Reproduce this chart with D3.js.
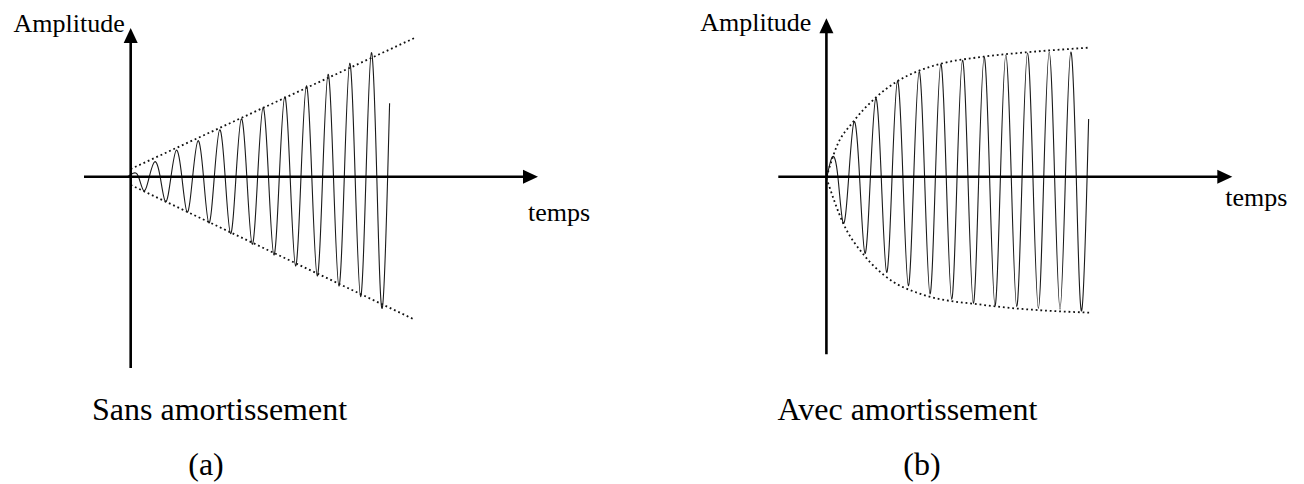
<!DOCTYPE html>
<html>
<head>
<meta charset="utf-8">
<script src="https://cdn.jsdelivr.net/npm/d3@7"></script>
<style>
  html, body { margin: 0; padding: 0; background: #fff; }
</style>
</head>
<body>
<svg id="chart" width="1304" height="484"></svg>
<script>
// Time is measured in oscillation periods, amplitude in arbitrary units.
// Each signal is described by its successive extrema (peak, trough, peak, ...).

const axisLabelY = "Amplitude";
const axisLabelX = "temps";
const captions = ["Sans amortissement", "Avec amortissement"];
const panelTags = ["(a)", "(b)"];

// (a) without damping: amplitude keeps growing
const signalStartA = -0.14;
const extremaA = [0.34, 1.4, 1.5, 2.5, 2.65, 3.55, 3.6, 4.63, 4.7, 5.7, 5.8, 6.76,
                  6.9, 7.83, 8.0, 8.93, 9.1, 9.93, 10.24, 10.93, 11.34, 12.0, 12.4, 13.16];
const signalEndA = [11.95, 7.34];
const envelopeUpperA = [[0, 0.77], [13.17, 13.94]];
const envelopeLowerA = [[0, -0.83], [13.04, -14.23]];

// (b) with damping: amplitude saturates
const signalStartB = 0.03;
const extremaB = [2.0, 4.67, 5.5, 7.67, 7.84, 9.57, 9.57, 10.9, 10.5, 11.73, 11.27, 12.27,
                  11.64, 12.67, 11.97, 12.9, 12.17, 13.0, 12.37, 13.17, 12.44, 13.27, 12.47, 13.4];
const signalEndB = [12.1, 5.77];
const envelopeUpperB = [[0.01, 0], [0.47, 3.0], [1.24, 5.5], [2.24, 7.84], [3.24, 9.5],
                        [4.24, 10.57], [5.24, 11.27], [7.24, 12.0], [9.24, 12.44], [12.1, 12.9]];
const envelopeLowerB = [[0, -0.13], [0.775, -4.66], [1.73, -7.83], [2.65, -9.83],
                        [4.5, -11.83], [7.27, -12.83], [12.19, -13.6]];

const serif = "'Liberation Serif', 'Times New Roman', Times, 'DejaVu Serif', serif";
const svg = d3.select("#chart");

// Builds the signal path: zero crossings between alternating extrema.
function signalPoints(start, extrema, end) {
  const pts = [[start, 0]];
  extrema.forEach((a, k) => {
    const sign = k % 2 === 0 ? 1 : -1;
    pts.push([start + 0.25 + 0.5 * k, sign * a]);
    pts.push([start + 0.5 + 0.5 * k, 0]);
  });
  pts.push(end);
  return pts;
}

function drawPanel(cfg) {
  const g = svg.append("g");
  const x = d3.scaleLinear().domain(cfg.tDomain).range(cfg.xRange);
  const y = d3.scaleLinear().domain(cfg.aDomain).range(cfg.yRange);

  const x0 = x(0), y0 = y(0);
  const xl = x(cfg.tDomain[0]), xr = x(cfg.tDomain[1]);
  const yb = y(cfg.aDomain[0]), yt = y(cfg.aDomain[1]);
  const head = 15, half = 7;

  // envelopes (dotted)
  const env = d3.line().x(d => x(d[0])).y(d => y(d[1])).curve(cfg.envCurve);
  [cfg.envUpper, cfg.envLower].forEach(e => {
    g.append("path").attr("d", env(e))
      .attr("fill", "none").attr("stroke", "#111")
      .attr("stroke-width", 1.8).attr("stroke-dasharray", "1.8,2.9");
  });

  // signal
  const sig = d3.line().x(d => x(d[0])).y(d => y(d[1])).curve(d3.curveNatural);
  g.append("path").attr("d", sig(signalPoints(cfg.start, cfg.extrema, cfg.end)))
    .attr("fill", "none").attr("stroke", "#1a1a1a").attr("stroke-width", 1.1);

  // axes with arrow heads
  g.append("line").attr("x1", xl).attr("x2", xr - head + 1).attr("y1", y0).attr("y2", y0)
    .attr("stroke", "#000").attr("stroke-width", 2.6);
  g.append("path")
    .attr("d", `M${xr},${y0} L${xr - head},${y0 - half} L${xr - head},${y0 + half} Z`)
    .attr("fill", "#000");
  g.append("line").attr("x1", x0).attr("x2", x0).attr("y1", yb).attr("y2", yt + head - 1)
    .attr("stroke", "#000").attr("stroke-width", 2.6);
  g.append("path")
    .attr("d", `M${x0},${yt} L${x0 - half},${yt + head} L${x0 + half},${yt + head} Z`)
    .attr("fill", "#000");

  // axis labels
  g.append("text").attr("x", x0 - cfg.yLabelGap).attr("y", yt + cfg.yLabelDrop)
    .attr("text-anchor", "end").attr("font-family", serif).attr("font-size", 26)
    .attr("fill", "#000").text(axisLabelY);
  g.append("text").attr("x", xr - cfg.xLabelBack).attr("y", y0 + cfg.xLabelDrop)
    .attr("font-family", serif).attr("font-size", 26).attr("fill", "#000").text(axisLabelX);

  // captions
  g.append("text").attr("x", cfg.captionX).attr("y", 420)
    .attr("font-family", serif).attr("font-size", 32).attr("fill", "#000").text(cfg.caption);
  g.append("text").attr("x", cfg.tagX).attr("y", 475)
    .attr("text-anchor", "middle").attr("font-family", serif).attr("font-size", 32)
    .attr("fill", "#000").text(cfg.tag);
}

drawPanel({
  tDomain: [-2.155, 18.8], xRange: [84, 538],
  aDomain: [-19.13, 14.87], yRange: [368, 28],
  start: signalStartA, extrema: extremaA, end: signalEndA,
  envUpper: envelopeUpperA, envLower: envelopeLowerA, envCurve: d3.curveLinear,
  yLabelGap: 6, yLabelDrop: 4, xLabelBack: 10, xLabelDrop: 44,
  caption: captions[0], captionX: 92, tag: panelTags[0], tagX: 206
});

drawPanel({
  tDomain: [-2.22, 18.73], xRange: [778.3, 1232.3],
  aDomain: [-17.76, 15.84], yRange: [354.3, 18.3],
  start: signalStartB, extrema: extremaB, end: signalEndB,
  envUpper: envelopeUpperB, envLower: envelopeLowerB, envCurve: d3.curveMonotoneX,
  yLabelGap: 15, yLabelDrop: 12.5, xLabelBack: 7, xLabelDrop: 29.5,
  caption: captions[1], captionX: 777.5, tag: panelTags[1], tagX: 922
});
</script>
</body>
</html>
